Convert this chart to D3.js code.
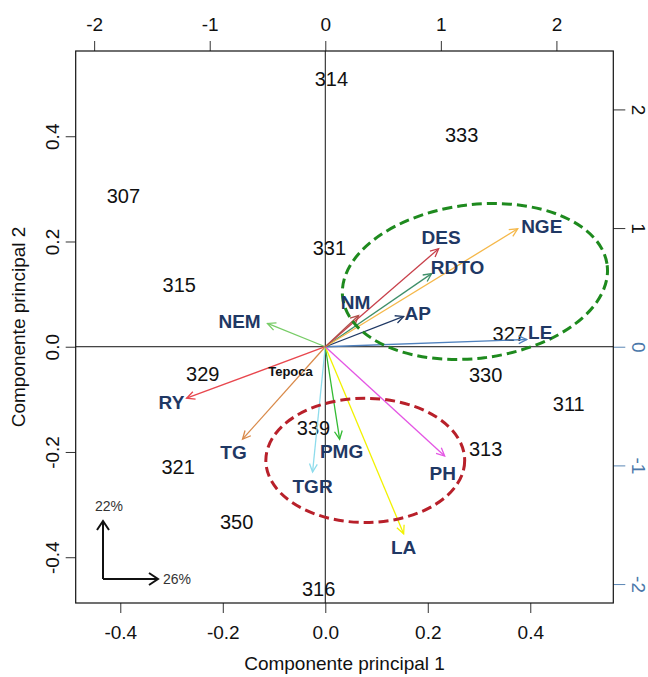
<!DOCTYPE html>
<html>
<head>
<meta charset="utf-8">
<script src="https://cdn.jsdelivr.net/npm/d3@7"></script>
<style>
  body { margin: 0; background: #fff; }
  text { font-family: "Liberation Sans", Arial, sans-serif; }
</style>
</head>
<body>
<div id="chart"></div>
<script>
// observations (scores) - bottom / left axes
var obsLabels = ["314", "333", "307", "331", "315", "327", "329", "330", "311", "339", "313", "321", "350", "316"]
var obsPC1 = [0.012, 0.266, -0.394, 0.008, -0.285, 0.359, -0.239, 0.313, 0.475, -0.023, 0.313, -0.287, -0.173, -0.013]
var obsPC2 = [0.510, 0.402, 0.286, 0.188, 0.118, 0.025, -0.052, -0.054, -0.109, -0.155, -0.194, -0.229, -0.333, -0.460]

// variables (loadings) - top / right axes
var varNames = ["NEM", "RY", "TG", "TGR", "PMG", "LA", "PH", "LE", "AP", "RDTO", "DES", "NGE", "NM"]
var varPC1 = [-0.50, -1.20, -0.716, -0.110, 0.124, 0.678, 1.033, 1.743, 0.678, 0.920, 0.981, 1.665, 0.288]
var varPC2 = [0.196, -0.434, -0.779, -1.056, -0.779, -1.576, -0.921, 0.061, 0.255, 0.616, 0.826, 0.994, 0.263]
// where the variable names were placed (same units)
var varLabX = [-0.742, -1.331, -0.794, -0.110, 0.141, 0.678, 1.016, 1.860, 0.799, 1.145, 1.002, 1.873, 0.262]
var varLabY = [0.212, -0.468, -0.889, -1.173, -0.880, -1.693, -1.064, 0.120, 0.280, 0.674, 0.926, 1.018, 0.372]
var varColors = ["#77cc66", "#e8474e", "#d98a4a", "#8edcec", "#33bb33", "#f2f200", "#e455e4", "#4f81bd", "#1f3864", "#3f8f6a", "#c8404a", "#f5b84a", "#b0504a"]

var xTicks = [-0.4, -0.2, 0.0, 0.2, 0.4]
var yTicks = [-0.4, -0.2, 0.0, 0.2, 0.4]
var topTicks = [-2, -1, 0, 1, 2]
var rightTicks = [-2, -1, 0, 1, 2]

// groups drawn as dashed ellipses (primary units)
var groupCx = [0.292, 0.078]
var groupCy = [0.124, -0.216]
var groupRx = [0.260, 0.194]
var groupRy = [0.146, 0.118]
var groupAngle = [-7, 0]
var groupColors = ["#1e8a1e", "#b8202a"]

var W = 648, H = 677
var pLeft = 75.7, pRight = 613.3, pTop = 51, pBottom = 603
var lim = [-0.487, 0.562]
var ratio = 0.2255

var svg = d3.select("#chart").append("svg")
    .attr("width", W)
    .attr("height", H)

svg.append("rect").attr("width", W).attr("height", H).attr("fill", "#fff")

var x = d3.scaleLinear().domain(lim).range([pLeft, pRight])
var y = d3.scaleLinear().domain(lim).range([pBottom, pTop])
var x2 = d3.scaleLinear().domain([lim[0] / ratio, lim[1] / ratio]).range([pLeft, pRight])
var y2 = d3.scaleLinear().domain([lim[0] / ratio, lim[1] / ratio]).range([pBottom, pTop])

var fmt1 = function (d) { return d.toFixed(1) }
var fmt0 = function (d) { return String(d) }

// bottom axis
var gB = svg.append("g").attr("transform", "translate(0," + pBottom + ")")
    .call(d3.axisBottom(x).tickValues(xTicks).tickSize(10).tickPadding(13).tickFormat(fmt1))
// top axis
var gT = svg.append("g").attr("transform", "translate(0," + pTop + ")")
    .call(d3.axisTop(x2).tickValues(topTicks).tickSize(10).tickPadding(10).tickFormat(fmt0))
// left axis
var gL = svg.append("g").attr("transform", "translate(" + pLeft + ",0)")
    .call(d3.axisLeft(y).tickValues(yTicks).tickSize(10).tickPadding(0).tickFormat(fmt1))
// right axis
var gR = svg.append("g").attr("transform", "translate(" + pRight + ",0)")
    .call(d3.axisRight(y2).tickValues(rightTicks).tickSize(12).tickPadding(0).tickFormat(fmt0))

;[gB, gT, gL, gR].forEach(function (g) {
    g.select(".domain").remove()
    g.selectAll("text").attr("font-size", 19).attr("fill", "#111")
    g.selectAll("line").attr("stroke", "#333")
})

gL.selectAll(".tick text")
    .attr("text-anchor", "middle")
    .attr("x", null).attr("dy", null)
    .attr("transform", "translate(-17,0) rotate(-90)")
// right labels read top to bottom
gR.selectAll(".tick text")
    .attr("text-anchor", "middle")
    .attr("x", null).attr("dy", null)
    .attr("transform", "translate(19,0) rotate(90)")
// right side ticks came out bluish for the negative half
gR.selectAll(".tick").each(function (d) {
    var c = d <= 0 ? "#5b87b5" : "#333"
    d3.select(this).select("line").attr("stroke", c)
    d3.select(this).select("text").attr("fill", d <= 0 ? "#4a78aa" : "#111")
})

// frame and zero lines
svg.append("rect")
    .attr("x", pLeft).attr("y", pTop)
    .attr("width", pRight - pLeft).attr("height", pBottom - pTop)
    .attr("fill", "none").attr("stroke", "#111").attr("stroke-width", 1.2)
svg.append("line").attr("x1", x(0)).attr("x2", x(0)).attr("y1", pTop).attr("y2", pBottom)
    .attr("stroke", "#111").attr("stroke-width", 1)
svg.append("line").attr("x1", pLeft).attr("x2", pRight).attr("y1", y(0)).attr("y2", y(0))
    .attr("stroke", "#111").attr("stroke-width", 1)

// axis titles
svg.append("text").attr("x", (pLeft + pRight) / 2).attr("y", 670)
    .attr("text-anchor", "middle").attr("font-size", 19).attr("fill", "#111")
    .text("Componente principal 1")
svg.append("text").attr("transform", "translate(25," + ((pTop + pBottom) / 2) + ") rotate(-90)")
    .attr("text-anchor", "middle").attr("font-size", 19).attr("fill", "#111")
    .text("Componente principal 2")

// observation labels
svg.append("g").selectAll("text")
    .data(obsLabels)
    .enter()
    .append("text")
    .attr("x", function (d, i) { return x(obsPC1[i]) })
    .attr("y", function (d, i) { return y(obsPC2[i]) })
    .attr("dy", "0.36em")
    .attr("text-anchor", "middle")
    .attr("font-size", 20)
    .attr("fill", "#111")
    .text(function (d) { return d })

// variable arrows
var arrows = svg.append("g")
varNames.forEach(function (name, i) {
    var x0 = x2(0), y0 = y2(0)
    var x1 = x2(varPC1[i]), y1 = y2(varPC2[i])
    var ang = Math.atan2(y1 - y0, x1 - x0)
    var hl = 9, ha = Math.PI / 7
    arrows.append("line")
        .attr("x1", x0).attr("y1", y0).attr("x2", x1).attr("y2", y1)
        .attr("stroke", varColors[i]).attr("stroke-width", 1.3)
    arrows.append("path")
        .attr("d", "M" + (x1 - hl * Math.cos(ang - ha)) + "," + (y1 - hl * Math.sin(ang - ha)) +
            "L" + x1 + "," + y1 +
            "L" + (x1 - hl * Math.cos(ang + ha)) + "," + (y1 - hl * Math.sin(ang + ha)))
        .attr("fill", "none").attr("stroke", varColors[i]).attr("stroke-width", 1.3)
})

// group ellipses
groupCx.forEach(function (cx, i) {
    svg.append("ellipse")
        .attr("cx", x(cx)).attr("cy", y(groupCy[i]))
        .attr("rx", x(groupRx[i]) - x(0)).attr("ry", y(0) - y(groupRy[i]))
        .attr("transform", "rotate(" + groupAngle[i] + "," + x(cx) + "," + y(groupCy[i]) + ")")
        .attr("fill", "none")
        .attr("stroke", groupColors[i])
        .attr("stroke-width", 3)
        .attr("stroke-dasharray", "10,5")
})

// variable names
svg.append("g").selectAll("text")
    .data(varNames)
    .enter()
    .append("text")
    .attr("x", function (d, i) { return x2(varLabX[i]) })
    .attr("y", function (d, i) { return y2(varLabY[i]) })
    .attr("dy", "0.36em")
    .attr("text-anchor", "middle")
    .attr("font-size", 19)
    .attr("font-weight", "bold")
    .attr("fill", "#1f3864")
    .text(function (d) { return d })

svg.append("text")
    .attr("x", x2(-0.301)).attr("y", y2(-0.207))
    .attr("dy", "0.36em").attr("text-anchor", "middle")
    .attr("font-size", 13).attr("font-weight", "bold").attr("fill", "#111")
    .text("Tepoca")

// variance explained marker, bottom-left corner
var vx = 103, vy = 579
svg.append("path").attr("d", "M" + vx + "," + vy + "V521M" + vx + "," + vy + "H158")
    .attr("fill", "none").attr("stroke", "#111").attr("stroke-width", 2)
svg.append("path").attr("d", "M" + (vx - 6) + ",530L" + vx + ",521L" + (vx + 6) + ",530")
    .attr("fill", "none").attr("stroke", "#111").attr("stroke-width", 2)
svg.append("path").attr("d", "M149," + (vy - 6) + "L158," + vy + "L149," + (vy + 6))
    .attr("fill", "none").attr("stroke", "#111").attr("stroke-width", 2)
svg.append("text").attr("x", 95).attr("y", 511).attr("font-size", 14)
    .attr("font-family", "Open Sans").attr("fill", "#333").text("22%")
svg.append("text").attr("x", 163).attr("y", 584).attr("font-size", 14)
    .attr("font-family", "Open Sans").attr("fill", "#333").text("26%")
</script>
</body>
</html>
